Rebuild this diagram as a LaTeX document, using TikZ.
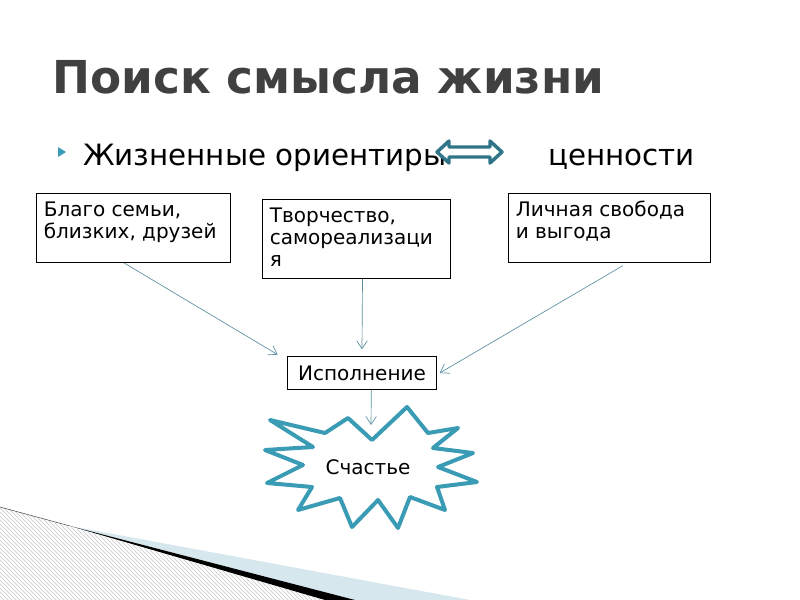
\documentclass[tikz,border=0pt]{standalone}
\usepackage{fontspec}
\setmainfont{DejaVu Sans}
\usetikzlibrary{arrows.meta,patterns}
\definecolor{slidegray}{HTML}{404040}
\definecolor{starteal}{HTML}{3A9BB5}
\definecolor{arrowteal}{HTML}{2F7587}
\definecolor{linkteal}{HTML}{5A90A0}
\definecolor{paleblue}{HTML}{D6E7EE}
\newcommand{\boxtext}[3]{\parbox[t][#2][t]{#1}{\rule{0pt}{13.5pt}#3}}

\begin{document}
\begin{tikzpicture}[x=0.75pt, y=-0.75pt,
  box/.style={draw, line width=0.75pt, inner xsep=5.5pt, inner ysep=4pt, anchor=north west, font=\fontsize{15}{16.5}\selectfont},
  link/.style={draw=linkteal, line width=0.5pt, -{Straight Barb[length=6pt,width=8pt]}},
  line/.style={anchor=base west, inner sep=0pt, font=\fontsize{22}{26}\selectfont}]
  \useasboundingbox (0,0) rectangle (800,600);
  \fill[pattern=north west lines, pattern color=gray!45] (0,507) -- (325,600) -- (0,600) -- cycle;
  \fill[paleblue] (70,526) -- (470,600) -- (355,600) -- cycle;
  \fill[black] (70,526) -- (355,600) -- (325,600) -- cycle;
  \draw[black!70, line width=0.4pt] (0,507) -- (70,526);

  \node[anchor=base west, inner sep=0pt, text=slidegray, font=\fontsize{34}{38}\selectfont\bfseries] (title) at (52,93) {Поиск смысла жизни};
  \fill[starteal] (58,147) -- (66,152) -- (58,157) -- cycle;
  \node[line] (orient) at (83,165) {Жизненные ориентиры};
  \node[line] (values) at (548,165) {ценности};
  \draw[arrowteal, line width=2.6pt, fill=white, line join=round] (437,152) -- (449,141) -- (449,147) -- (490,147) -- (490,141) -- (502,152) -- (490,163) -- (490,157) -- (449,157) -- (449,163) -- cycle;

  \node[box] (family) at (36,193) {\boxtext{134.5pt}{43.75pt}{Благо семьи,\\ близких, друзей}};
  \node[box] (create) at (262,199) {\boxtext{130pt}{51.25pt}{Творчество,\\ самореализаци\\ я}};
  \node[box] (freedom) at (508,193) {\boxtext{140.5pt}{43.75pt}{Личная свобода\\ и выгода}};
  \node[draw, line width=0.75pt, minimum width=111.75pt, minimum height=24.75pt, font=\fontsize{15}{18}\selectfont] (fulfil) at (362,373) {Исполнение};

  \draw[starteal, line width=3pt, fill=white, line join=round] (270,420) -- (325,433) -- (348,418) -- (372,440) -- (407,407) -- (428,433) -- (458,428) -- (433,448) -- (473,453) -- (438,467) -- (477,482) -- (437,487) -- (445,510) -- (410,497) -- (398,528) -- (378,500) -- (352,527) -- (340,498) -- (298,510) -- (312,487) -- (267,483) -- (303,465) -- (265,450) -- (313,447) -- cycle;
  \node[font=\fontsize{15}{18}\selectfont] (joy) at (368,467) {Счастье};
  \coordinate (peak) at (371,425);

  \draw[link] ([xshift=-7pt]family.south) -- ([xshift=-7pt,yshift=1pt]fulfil.north west);
  \draw[link] ([xshift=4.5pt]create.south) -- ([yshift=5pt]fulfil.north);
  \draw[link] ([xshift=10pt,yshift=-2pt]freedom.south) -- ([xshift=2pt]fulfil.east);
  \draw[link] ([xshift=7pt]fulfil.south) -- (peak);
\end{tikzpicture}
\end{document}
